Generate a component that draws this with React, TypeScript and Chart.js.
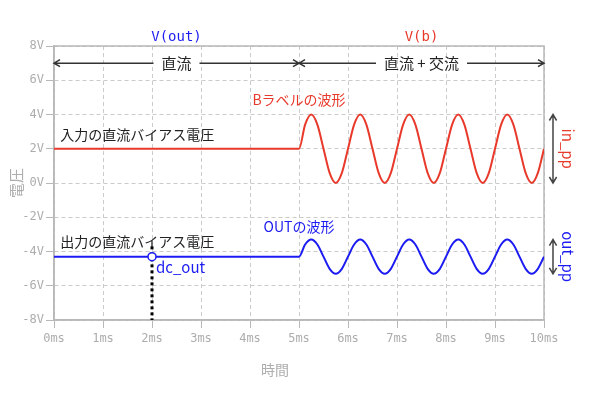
import React, { useEffect, useRef } from 'react';
import { Chart, registerables } from 'chart.js';

Chart.register(...registerables);

// time axis (ms)
const timeMs = [
  0, 5, 5.125, 5.25, 5.375, 5.5, 5.625, 5.75, 5.875,
  6, 6.125, 6.25, 6.375, 6.5, 6.625, 6.75, 6.875,
  7, 7.125, 7.25, 7.375, 7.5, 7.625, 7.75, 7.875,
  8, 8.125, 8.25, 8.375, 8.5, 8.625, 8.75, 8.875,
  9, 9.125, 9.25, 9.375, 9.5, 9.625, 9.75, 9.875,
  10,
];
// V(b): input (red)
const inputV = [
  2, 2, 3.41, 4, 3.41, 2, 0.59, 0, 0.59,
  2, 3.41, 4, 3.41, 2, 0.59, 0, 0.59,
  2, 3.41, 4, 3.41, 2, 0.59, 0, 0.59,
  2, 3.41, 4, 3.41, 2, 0.59, 0, 0.59,
  2, 3.41, 4, 3.41, 2, 0.59, 0, 0.59,
  2,
];
// V(out): output (blue)
const outputV = [
  -4.3, -4.3, -3.59, -3.3, -3.59, -4.3, -5.01, -5.3, -5.01,
  -4.3, -3.59, -3.3, -3.59, -4.3, -5.01, -5.3, -5.01,
  -4.3, -3.59, -3.3, -3.59, -4.3, -5.01, -5.3, -5.01,
  -4.3, -3.59, -3.3, -3.59, -4.3, -5.01, -5.3, -5.01,
  -4.3, -3.59, -3.3, -3.59, -4.3, -5.01, -5.3, -5.01,
  -4.3,
];

const xRange = [0, 10];
const yRange = [-8, 8];
const xStep = 1;
const yStep = 2;

// annotation values
const dcOutTime = 2;
const dcOutValue = -4.3;
const inBias = 2;
const inPeak = 4;
const inTrough = 0;
const outPeak = -3.3;
const outTrough = -5.3;
const sectionSplit = 5;
const sectionArrowV = 7;

const RED = '#e8392b';
const BLUE = '#1c1cf2';
const GRID = '#cbcbcb';
const BORDER = '#b8b8b8';
const TICK = '#adadad';
const MONO = '"DejaVu Sans Mono", monospace';
const JP = '"Noto Sans CJK JP", "Noto Sans", sans-serif';

function hArrow(ctx: CanvasRenderingContext2D, x1: number, x2: number, y: number, text: string) {
  ctx.save();
  ctx.font = `15px ${JP}`;
  const w = ctx.measureText(text).width;
  const cx = (x1 + x2) / 2;
  const gap = w / 2 + 8;
  ctx.strokeStyle = '#333';
  ctx.lineWidth = 1.5;
  ctx.beginPath();
  ctx.moveTo(x1, y);
  ctx.lineTo(cx - gap, y);
  ctx.moveTo(cx + gap, y);
  ctx.lineTo(x2, y);
  // heads
  const h = 6;
  ctx.moveTo(x1 + h, y - h * 0.6);
  ctx.lineTo(x1, y);
  ctx.lineTo(x1 + h, y + h * 0.6);
  ctx.moveTo(x2 - h, y - h * 0.6);
  ctx.lineTo(x2, y);
  ctx.lineTo(x2 - h, y + h * 0.6);
  ctx.stroke();
  ctx.fillStyle = '#222';
  ctx.textAlign = 'center';
  ctx.textBaseline = 'middle';
  ctx.fillText(text, cx, y);
  ctx.restore();
}

function vArrow(ctx: CanvasRenderingContext2D, x: number, y1: number, y2: number) {
  ctx.save();
  ctx.strokeStyle = '#444';
  ctx.lineWidth = 1.5;
  const h = 6;
  ctx.beginPath();
  ctx.moveTo(x, y1);
  ctx.lineTo(x, y2);
  ctx.moveTo(x - h * 0.6, y1 + h);
  ctx.lineTo(x, y1);
  ctx.lineTo(x + h * 0.6, y1 + h);
  ctx.moveTo(x - h * 0.6, y2 - h);
  ctx.lineTo(x, y2);
  ctx.lineTo(x + h * 0.6, y2 - h);
  ctx.stroke();
  ctx.restore();
}

function text(ctx: CanvasRenderingContext2D, s: string, x: number, y: number, color: string, font: string, align: CanvasTextAlign = 'left', rot = 0) {
  ctx.save();
  ctx.translate(x, y);
  if (rot) ctx.rotate(rot);
  ctx.font = font;
  ctx.fillStyle = color;
  ctx.textAlign = align;
  ctx.textBaseline = 'middle';
  ctx.fillText(s, 0, 0);
  ctx.restore();
}

const annotate = {
  id: 'annotate',
  beforeDatasetsDraw(chart: any) {
    const { ctx, chartArea: a } = chart;
    ctx.save();
    ctx.strokeStyle = BORDER;
    ctx.lineWidth = 1.5;
    ctx.strokeRect(a.left, a.top, a.right - a.left, a.bottom - a.top);
    ctx.restore();
  },
  afterDatasetsDraw(chart: any) {
    const { ctx, chartArea: a, scales } = chart;
    const x = scales.x;
    const y = scales.y;
    const px = (v: number) => x.getPixelForValue(v);
    const py = (v: number) => y.getPixelForValue(v);

    // axis titles
    text(ctx, '時間', 275, 370, TICK, `14px ${JP}`, 'center');
    text(ctx, '電圧', 16, (a.top + a.bottom) / 2, TICK, `15px ${JP}`, 'center', -Math.PI / 2);

    // series headers
    text(ctx, 'V(out)', px(sectionSplit / 2), a.top - 9, BLUE, `14px ${MONO}`, 'center');
    text(ctx, 'V(b)', px((sectionSplit + xRange[1]) / 2), a.top - 9, RED, `14px ${MONO}`, 'center');

    // section arrows
    hArrow(ctx, px(xRange[0]), px(sectionSplit), py(sectionArrowV), '直流');
    hArrow(ctx, px(sectionSplit), px(xRange[1]), py(sectionArrowV), '直流 + 交流');

    // labels
    text(ctx, 'Bラベルの波形', px(sectionSplit), py(4.85), RED, `14px ${JP}`, 'center');
    text(ctx, '入力の直流バイアス電圧', px(0.13), py(2.8), '#222', `14px ${JP}`, 'left');
    text(ctx, '出力の直流バイアス電圧', px(0.13), py(-3.4), '#222', `14px ${JP}`, 'left');
    text(ctx, 'OUTの波形', px(sectionSplit), py(-2.57), BLUE, `14px ${JP}`, 'center');

    // dc_out marker
    const cx = px(dcOutTime);
    const cy = py(dcOutValue);
    ctx.save();
    ctx.strokeStyle = '#000';
    ctx.lineWidth = 3;
    ctx.setLineDash([3, 3]);
    ctx.beginPath();
    ctx.moveTo(cx, py(-3.7));
    ctx.lineTo(cx, a.bottom);
    ctx.stroke();
    ctx.setLineDash([]);
    ctx.fillStyle = '#fff';
    ctx.strokeStyle = BLUE;
    ctx.lineWidth = 1.5;
    ctx.beginPath();
    ctx.arc(cx, cy, 4, 0, Math.PI * 2);
    ctx.fill();
    ctx.stroke();
    ctx.restore();
    text(ctx, 'dc_out', cx + 4, cy + 11, BLUE, `15px ${JP}`, 'left');

    // peak-to-peak arrows
    const ax = a.right + 9;
    vArrow(ctx, ax, py(inPeak), py(inTrough));
    vArrow(ctx, ax, py(outPeak), py(outTrough));
    text(ctx, 'in_pp', a.right + 24, py(inBias), RED, `15px ${JP}`, 'center', Math.PI / 2);
    text(ctx, 'out_pp', a.right + 24, py(dcOutValue), BLUE, `15px ${JP}`, 'center', Math.PI / 2);
  },
};

export default function App() {
  const ref = useRef<HTMLCanvasElement>(null);
  useEffect(() => {
    if (!ref.current) return;
    const chart = new Chart(ref.current, {
      type: 'line',
      data: {
        datasets: [
          {
            data: timeMs.map((t, i) => ({ x: t, y: inputV[i] })),
            borderColor: RED,
            borderWidth: 2,
            pointRadius: 0,
            cubicInterpolationMode: 'monotone',
          },
          {
            data: timeMs.map((t, i) => ({ x: t, y: outputV[i] })),
            borderColor: BLUE,
            borderWidth: 2,
            pointRadius: 0,
            cubicInterpolationMode: 'monotone',
          },
        ],
      },
      options: {
        responsive: false,
        animation: false,
        events: [],
        layout: { padding: { left: 0, right: 56, top: 46, bottom: 0 } },
        plugins: { legend: { display: false }, tooltip: { enabled: false } },
        scales: {
          x: {
            type: 'linear',
            min: xRange[0],
            max: xRange[1],
            ticks: {
              stepSize: xStep,
              callback: (v: any) => `${v}ms`,
              color: TICK,
              font: { family: MONO, size: 12 },
              padding: 4,
              maxRotation: 0,
            },
            grid: { color: GRID, tickColor: BORDER, tickLength: 8, tickBorderDash: [] },
            border: { color: BORDER, dash: [4, 3], width: 1.5 },
            afterFit: (s: any) => { s.height = 75; },
          },
          y: {
            type: 'linear',
            min: yRange[0],
            max: yRange[1],
            ticks: {
              stepSize: yStep,
              callback: (v: any) => `${v}V`,
              color: TICK,
              font: { family: MONO, size: 12 },
              padding: 2,
            },
            grid: { color: GRID, tickColor: BORDER, tickLength: 8, tickBorderDash: [] },
            border: { color: BORDER, dash: [4, 3], width: 1.5 },
            afterFit: (s: any) => { s.width = 54; },
          },
        },
      },
      plugins: [annotate],
    } as any);
    return () => chart.destroy();
  }, []);
  return (
    <div style={{ position: 'fixed', left: 0, top: 0, width: 600, height: 395, background: '#fff' }}>
      <canvas ref={ref} width={600} height={395} style={{ display: 'block' }} />
    </div>
  );
}
